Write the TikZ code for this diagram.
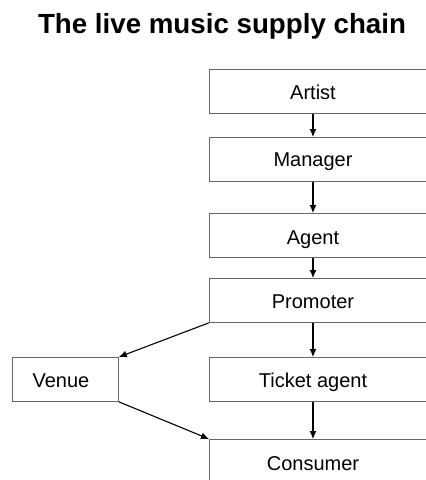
\documentclass[tikz,border=0pt]{standalone}
\usepackage{fontspec}
\setmainfont{Liberation Sans}
\usetikzlibrary{arrows.meta}
\begin{document}
\begin{tikzpicture}[x=1pt,y=-1pt,
  box/.style={draw=black!60,line width=0.8pt,minimum height=44pt,inner sep=0pt,anchor=north west},
  lbl/.style={font=\fontsize{20}{24}\selectfont,anchor=base,inner sep=0pt},
  arr/.style={-{Latex[length=8pt,width=7pt]},line width=1.1pt,black}]
\useasboundingbox (0,0) rectangle (426,480);
\clip (0,0) rectangle (426,480);
\node[font=\bfseries\fontsize{27.7}{32}\selectfont,anchor=base,inner sep=0pt] (title) at (222,33) {The live music supply chain};
\node[box,minimum width=240pt] (artist) at (209,69) {};
\node[box,minimum width=240pt] (manager) at (209,137) {};
\node[box,minimum width=240pt] (agent) at (209,213) {};
\node[box,minimum width=240pt] (promoter) at (209,278) {};
\node[box,minimum width=240pt] (ticket) at (209,357) {};
\node[box,minimum width=240pt,minimum height=60pt] (consumer) at (209,439) {};
\node[box,minimum width=106pt] (venue) at (12,357) {};
\node[lbl] (tartist) at (313,99) {Artist};
\node[lbl] (tmanager) at (313,166) {Manager};
\node[lbl] (tagent) at (313,244) {Agent};
\node[lbl] (tpromoter) at (313,308) {Promoter};
\node[lbl] (tticket) at (313,387) {Ticket agent};
\node[lbl] (tconsumer) at (313,470) {Consumer};
\node[lbl] (tvenue) at (61,387) {Venue};
\draw[arr] (artist.south west -| tartist) -- (manager.north west -| tartist);
\draw[arr] (manager.south west -| tartist) -- (agent.north west -| tartist);
\draw[arr] (agent.south west -| tartist) -- (promoter.north west -| tartist);
\draw[arr] (promoter.south west -| tartist) -- (ticket.north west -| tartist);
\draw[arr] (ticket.south west -| tartist) -- (consumer.north west -| tartist);
\draw[arr] (promoter.south west) -- (venue.north east);
\draw[arr] (venue.south east) -- (consumer.north west);
\end{tikzpicture}
\end{document}
